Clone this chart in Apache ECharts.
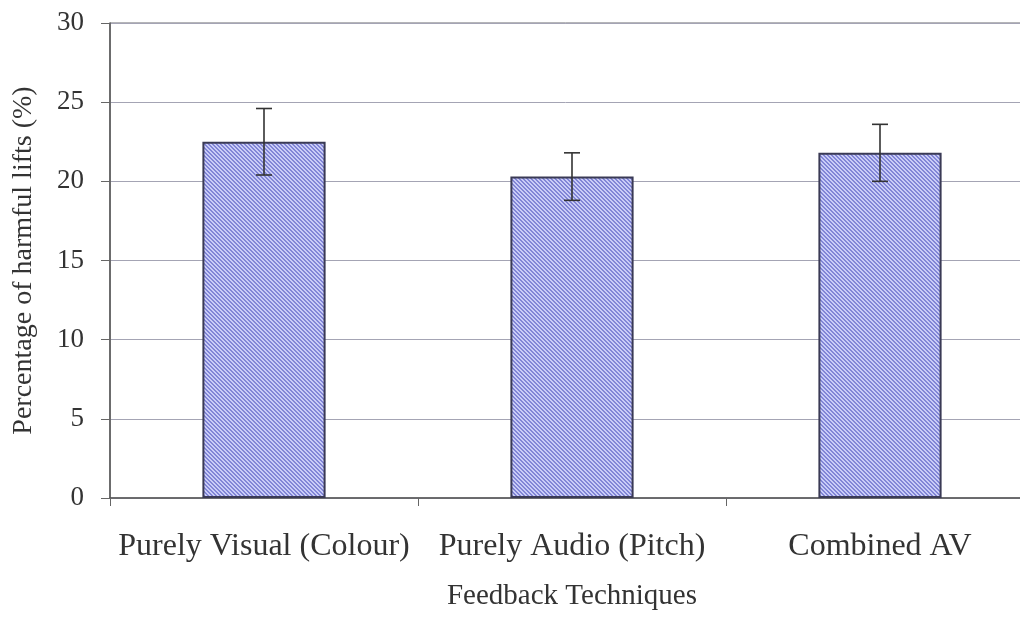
<!DOCTYPE html>
<html>
<head>
<meta charset="utf-8">
<script src="https://cdn.jsdelivr.net/npm/echarts@6/dist/echarts.min.js"></script>
<style>html,body{margin:0;padding:0;background:#fff}#c{width:1020px;height:617px}</style>
</head>
<body>
<div id="c"></div>
<script>
const categories = ['Purely Visual (Colour)', 'Purely Audio (Pitch)', 'Combined AV'];
const means = [22.5, 20.3, 21.8];
const errors = [2.1, 1.5, 1.8];
const yTicks = [0, 5, 10, 15, 20, 25, 30];
const xTitle = 'Feedback Techniques';
const yTitle = 'Percentage of harmful lifts (%)';

// hatch pattern
const tile = document.createElement('canvas');
tile.width = 4; tile.height = 4;
const tctx = tile.getContext('2d');
tctx.fillStyle = '#c9ccf7';
tctx.fillRect(0, 0, 4, 4);
tctx.fillStyle = '#8185d6';
for (let x = 0; x < 4; x++) for (let y = 0; y < 4; y++) {
  const d = ((x - y) % 4 + 4) % 4;
  if (d === 0 || d === 1) tctx.fillRect(x, y, 1, 1);
}

const errData = categories.map((c, i) => [i, means[i] - errors[i], means[i] + errors[i]]);

const chart = echarts.init(document.getElementById('c'), null, {renderer: 'canvas'});
const font = 'Liberation Serif';
chart.setOption({
  animation: false,
  backgroundColor: '#ffffff',
  grid: {left: 110, width: 924, top: 23, bottom: 119, outerBoundsMode: 'none', containLabel: false, show: true, borderColor: '#6a6a70', borderWidth: 1, backgroundColor: 'transparent'},
  xAxis: {
    type: 'category',
    data: categories,
    name: xTitle,
    nameLocation: 'middle',
    nameGap: 84,
    nameTextStyle: {fontFamily: font, fontSize: 29, color: '#333'},
    axisLine: {lineStyle: {color: '#555', width: 1.5}},
    axisTick: {show: true, length: 8, lineStyle: {color: '#666'}},
    axisLabel: {fontFamily: font, fontSize: 32, color: '#333', margin: 33, interval: 0},
    splitLine: {show: false}
  },
  yAxis: {
    type: 'value',
    min: yTicks[0], max: yTicks[yTicks.length - 1], interval: yTicks[1] - yTicks[0],
    name: yTitle,
    nameLocation: 'middle',
    nameGap: 72,
    nameRotate: 90,
    nameTextStyle: {fontFamily: font, fontSize: 28, color: '#333'},
    axisLine: {show: true, lineStyle: {color: '#555', width: 1.5}},
    axisTick: {show: true, length: 9, lineStyle: {color: '#666'}},
    axisLabel: {fontFamily: font, fontSize: 27, color: '#333', margin: 26},
    splitLine: {show: true, lineStyle: {color: '#a4a4b4', width: 1}}
  },
  series: [
    {
      type: 'bar',
      data: means,
      barWidth: '40%',
      itemStyle: {color: {image: tile, repeat: 'repeat'}, borderColor: '#3a3a55', borderWidth: 2}
    },
    {
      type: 'custom',
      data: errData,
      z: 10,
      renderItem: function (params, api) {
        const x = api.value(0);
        const lo = api.coord([x, api.value(1)]);
        const hi = api.coord([x, api.value(2)]);
        const hw = 8;
        const st = {stroke: '#333', lineWidth: 1.6};
        return {type: 'group', children: [
          {type: 'line', shape: {x1: lo[0], y1: lo[1], x2: hi[0], y2: hi[1]}, style: st},
          {type: 'line', shape: {x1: lo[0] - hw, y1: lo[1], x2: lo[0] + hw, y2: lo[1]}, style: st},
          {type: 'line', shape: {x1: hi[0] - hw, y1: hi[1], x2: hi[0] + hw, y2: hi[1]}, style: st}
        ]};
      }
    }
  ]
});
</script>
</body>
</html>
